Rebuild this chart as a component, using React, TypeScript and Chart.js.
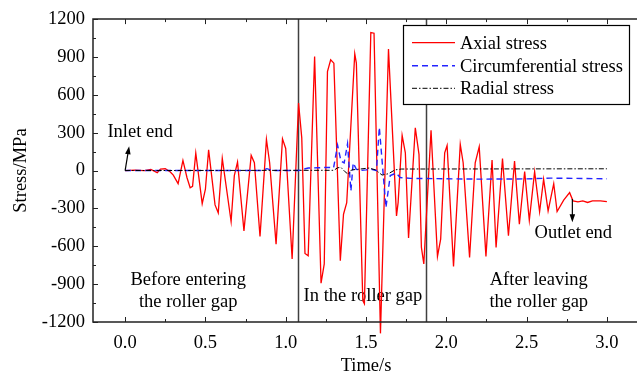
import React, { useEffect, useRef } from 'react';
import { Chart, registerables } from 'chart.js';

Chart.register(...registerables);

// ---- data (time in s, stress in MPa) ----
const axialTime = [
  0, 0.06, 0.12, 0.16, 0.2, 0.22, 0.25, 0.28, 0.3, 0.33, 0.36, 0.385, 0.405, 0.42, 0.44, 0.48, 0.5, 0.52,
  0.56, 0.58, 0.605, 0.66, 0.68, 0.7, 0.74, 0.785, 0.805, 0.84, 0.88, 0.9, 0.94, 0.98, 1.0, 1.04, 1.08,
  1.1, 1.12, 1.14, 1.18, 1.22, 1.24, 1.26, 1.28, 1.3, 1.34, 1.36, 1.38, 1.43, 1.44, 1.48, 1.49, 1.53,
  1.55, 1.59, 1.64, 1.69, 1.7, 1.725, 1.745, 1.765, 1.807, 1.83, 1.845, 1.86, 1.905, 1.945, 1.965, 1.99,
  2.005, 2.045, 2.087, 2.105, 2.145, 2.18, 2.205, 2.247, 2.285, 2.31, 2.35, 2.387, 2.425, 2.455, 2.488,
  2.517, 2.55, 2.581, 2.606, 2.634, 2.669, 2.69, 2.731, 2.768, 2.789, 2.82, 2.85, 2.88, 2.91, 2.96, 3.0,
];
const axialStress = [
  0, 4, 0, 8, -17, 12, 14, -9, -36, -104, 80, -55, -136, -125, 138, -262, -148, 164,
  -272, -335, 96, -404, -40, 67, -478, 120, 62, -522, 246, 62, -583, 251, 175, -701, 535,
  259, -657, -675, 904, -893, -740, 785, 878, 851, -715, -346, -254, 925, 851, -1030, -1055, 1093,
  1088, -1290, 962, -359, -254, 278, 140, -535, 338, 128, -609, -740, 320, -680, -543, 141,
  199, -759, 207, 62, -688, 62, 188, -680, 83, -609, 96, -517, 75, -425, -8,
  -394, -9, -327, -69, -320, -104, -325, -234, -175, -240, -248, -240, -253, -240, -240, -246,
];

const circTime = [
  0, 0.85, 0.883, 0.92, 1.08, 1.14, 1.2, 1.27, 1.298, 1.323, 1.344, 1.364, 1.385, 1.406, 1.42, 1.44,
  1.46, 1.5, 1.53, 1.565, 1.583, 1.624, 1.651, 1.688, 1.713, 1.776, 2.0, 2.2, 2.5, 2.65, 3.0,
];
const circStress = [
  0, 0, 15, 0, 0, 20, 22, 25, 20, 201, 75, 60, 212, -162, 60, 10,
  0, 5, 10, 0, 343, -293, -40, -20, -55, -62, -65, -68, -66, -60, -65,
];

const radialTime = [0, 1.3, 1.323, 1.344, 1.37, 1.39, 1.41, 1.45, 1.52, 1.56, 1.6, 1.64, 1.68, 1.72, 3.0];
const radialStress = [0, 2, 22, 25, -10, -30, 5, 10, 20, 5, -36, -25, 5, 12, 14];

const xTickValues = [0, 0.5, 1, 1.5, 2, 2.5, 3];
const yTickValues = [-1200, -900, -600, -300, 0, 300, 600, 900, 1200];
const zoneBoundaries = [1.078, 1.875];
const seriesNames = ['Axial stress', 'Circumferential stress', 'Radial stress'];

const FONT = '"Liberation Serif", "Times New Roman", Times, serif';
const FS = 18.5;

const pts = (xs: number[], ys: number[]) => xs.map((x, i) => ({ x, y: ys[i] }));

const overlay = {
  id: 'overlay',
  beforeDatasetsDraw(chart: any) {
    const { ctx, chartArea: a, scales } = chart;
    const x = scales.x;
    const y = scales.y;
    ctx.save();
    // zone boundaries
    ctx.strokeStyle = '#404040';
    ctx.lineWidth = 1.5;
    zoneBoundaries.forEach((t) => {
      const px = Math.round(x.getPixelForValue(t)) + 0.5;
      ctx.beginPath();
      ctx.moveTo(px, a.top);
      ctx.lineTo(px, a.bottom);
      ctx.stroke();
    });
    // texts
    ctx.fillStyle = '#000';
    ctx.font = `${FS}px ${FONT}`;
    ctx.textAlign = 'center';
    ctx.textBaseline = 'middle';
    const texts: [string, number, number][] = [
      ['Before entering', 0.393, -872],
      ['the roller gap', 0.393, -1046],
      ['In the roller gap', 1.481, -999],
      ['After leaving', 2.576, -872],
      ['the roller gap', 2.576, -1046],
      ['Inlet end', 0.093, 304],
      ['Outlet end', 2.791, -493],
    ];
    texts.forEach(([s, t, v]) => ctx.fillText(s, x.getPixelForValue(t), y.getPixelForValue(v)));
    ctx.restore();
  },
  afterDraw(chart: any) {
    const { ctx, chartArea: a, scales } = chart;
    const x = scales.x;
    const y = scales.y;
    ctx.save();
    // frame
    ctx.strokeStyle = '#222';
    ctx.lineWidth = 1.5;
    ctx.beginPath();
    ctx.moveTo(a.right, a.top);
    ctx.lineTo(a.left, a.top);
    ctx.lineTo(a.left, a.bottom);
    ctx.lineTo(a.right, a.bottom);
    ctx.stroke();
    // ticks (inward)
    ctx.lineWidth = 1;
    const major = 5;
    const minor = 3;
    const xt: [number, number][] = [];
    for (let i = 0; i < xTickValues.length; i++) {
      xt.push([xTickValues[i], major]);
      if (i < xTickValues.length - 1) xt.push([(xTickValues[i] + xTickValues[i + 1]) / 2, minor]);
    }
    ctx.beginPath();
    xt.forEach(([v, len]) => {
      const px = Math.round(x.getPixelForValue(v)) + 0.5;
      ctx.moveTo(px, a.bottom);
      ctx.lineTo(px, a.bottom - len);
      ctx.moveTo(px, a.top);
      ctx.lineTo(px, a.top + len);
    });
    for (let i = 0; i < yTickValues.length; i++) {
      const vals: [number, number][] = [[yTickValues[i], major]];
      if (i < yTickValues.length - 1) vals.push([(yTickValues[i] + yTickValues[i + 1]) / 2, minor]);
      vals.forEach(([v, len]) => {
        const py = Math.round(y.getPixelForValue(v)) + 0.5;
        ctx.moveTo(a.left, py);
        ctx.lineTo(a.left + len, py);
      });
    }
    ctx.stroke();

    // arrows
    const arrow = (t0: number, v0: number, t1: number, v1: number) => {
      const x0 = x.getPixelForValue(t0), y0 = y.getPixelForValue(v0);
      const x1 = x.getPixelForValue(t1), y1 = y.getPixelForValue(v1);
      const ang = Math.atan2(y1 - y0, x1 - x0);
      ctx.strokeStyle = '#000';
      ctx.fillStyle = '#000';
      ctx.lineWidth = 1.2;
      ctx.beginPath();
      ctx.moveTo(x0, y0);
      ctx.lineTo(x1 - 5 * Math.cos(ang), y1 - 5 * Math.sin(ang));
      ctx.stroke();
      const hl = 8, hw = 2.8;
      ctx.beginPath();
      ctx.moveTo(x1, y1);
      ctx.lineTo(x1 - hl * Math.cos(ang) + hw * Math.sin(ang), y1 - hl * Math.sin(ang) - hw * Math.cos(ang));
      ctx.lineTo(x1 - hl * Math.cos(ang) - hw * Math.sin(ang), y1 - hl * Math.sin(ang) + hw * Math.cos(ang));
      ctx.closePath();
      ctx.fill();
    };
    arrow(0, 0, 0.025, 193);
    arrow(2.785, -225, 2.785, -410);

    // legend
    const lx = 403.5, ly = 25.5, lw = 226, lh = 79;
    ctx.fillStyle = '#fff';
    ctx.fillRect(lx, ly, lw, lh);
    ctx.strokeStyle = '#000';
    ctx.lineWidth = 1.2;
    ctx.strokeRect(lx, ly, lw, lh);
    const rows = [42.7, 65.7, 88.3];
    chart.data.datasets.forEach((ds: any, i: number) => {
      ctx.strokeStyle = ds.borderColor;
      ctx.lineWidth = ds.borderWidth;
      ctx.setLineDash(ds.borderDash || []);
      ctx.beginPath();
      ctx.moveTo(412, rows[i]);
      ctx.lineTo(455, rows[i]);
      ctx.stroke();
      ctx.setLineDash([]);
      ctx.fillStyle = '#000';
      ctx.font = `${FS}px ${FONT}`;
      ctx.textAlign = 'left';
      ctx.textBaseline = 'middle';
      ctx.fillText(seriesNames[i], 460, rows[i] + 1);
    });
    ctx.restore();
  },
};

export default function App() {
  const ref = useRef<HTMLCanvasElement>(null);
  useEffect(() => {
    document.body.style.margin = '0';
    const chart = new Chart(ref.current as HTMLCanvasElement, {
      type: 'line',
      data: {
        datasets: [
          {
            label: seriesNames[0],
            data: pts(axialTime, axialStress),
            borderColor: '#ff0000',
            borderWidth: 1.3,
            pointRadius: 0,
            tension: 0,
            clip: false as any,
            order: 3,
          },
          {
            label: seriesNames[1],
            data: pts(circTime, circStress),
            borderColor: '#2424ff',
            borderWidth: 1.4,
            borderDash: [6, 4],
            pointRadius: 0,
            tension: 0,
            order: 2,
          },
          {
            label: seriesNames[2],
            data: pts(radialTime, radialStress),
            borderColor: '#000000',
            borderWidth: 1,
            borderDash: [5, 2, 1.5, 2],
            pointRadius: 0,
            tension: 0,
            order: 1,
          },
        ],
      },
      options: {
        animation: false,
        responsive: false,
        devicePixelRatio: 1,
        layout: { padding: { top: 17, right: 1, left: 0, bottom: 0 } },
        plugins: { legend: { display: false }, tooltip: { enabled: false } },
        scales: {
          x: {
            type: 'linear',
            min: -0.2,
            max: 3.2,
            grid: { display: false, drawTicks: false },
            border: { display: false },
            afterBuildTicks: (s: any) => {
              s.ticks = xTickValues.map((v) => ({ value: v }));
            },
            afterFit: (s: any) => {
              s.height = 59;
            },
            ticks: {
              color: '#000',
              font: { family: FONT, size: FS },
              padding: 10,
              maxRotation: 0,
              autoSkip: false,
              callback: (v: any) => Number(v).toFixed(1),
            },
            title: {
              display: true,
              text: 'Time/s',
              color: '#000',
              font: { family: FONT, size: FS },
              padding: { top: 0, bottom: 4 },
            },
          },
          y: {
            type: 'linear',
            min: -1200,
            max: 1200,
            grid: { display: false, drawTicks: false },
            border: { display: false },
            afterBuildTicks: (s: any) => {
              s.ticks = yTickValues.map((v) => ({ value: v }));
            },
            afterFit: (s: any) => {
              s.width = 93;
            },
            ticks: {
              color: '#000',
              font: { family: FONT, size: FS },
              padding: 8,
              autoSkip: false,
              callback: (v: any) => String(v),
            },
            title: {
              display: true,
              text: 'Stress/MPa',
              color: '#000',
              font: { family: FONT, size: FS },
              padding: { top: 10, bottom: 0 },
            },
          },
        },
      },
      plugins: [overlay],
    } as any);
    return () => chart.destroy();
  }, []);
  return (
    <div style={{ position: 'fixed', left: 0, top: 0, width: 637, height: 381, overflow: 'hidden', background: '#fff' }}>
      <canvas ref={ref} width={640} height={381} style={{ display: 'block', width: 640, height: 381 }} />
    </div>
  );
}
